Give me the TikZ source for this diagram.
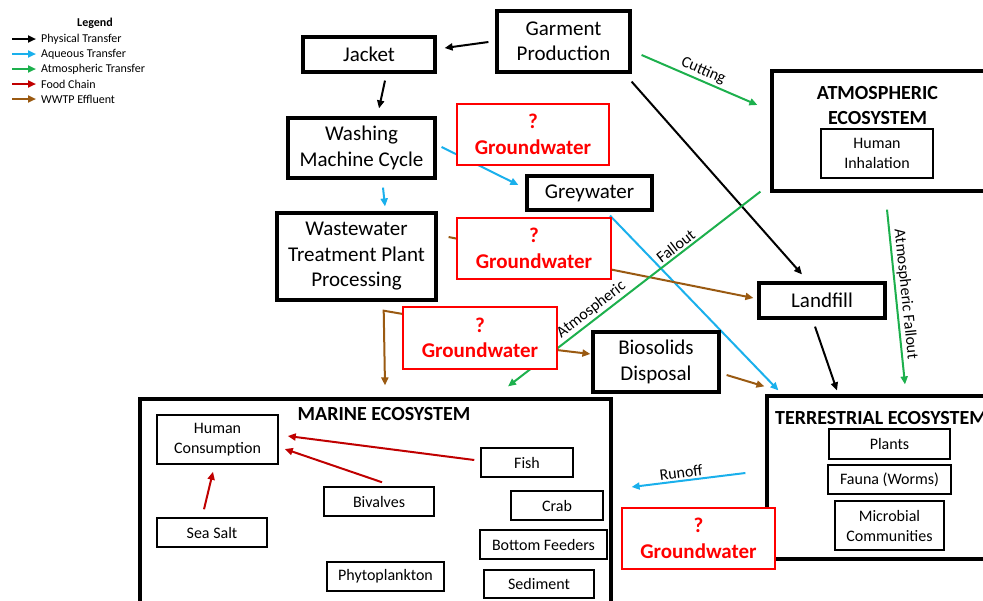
\documentclass[tikz,border=0pt]{standalone}
\usepackage{fontspec}
\setmainfont{Carlito}
\usetikzlibrary{arrows.meta,calc}
\definecolor{aq}{HTML}{1AB0EC}
\definecolor{atm}{HTML}{1DB04D}
\definecolor{food}{HTML}{C00000}
\definecolor{wwtpc}{HTML}{9A5A12}
\definecolor{gwred}{HTML}{FF0000}
\pgfdeclarelayer{eco}
\pgfdeclarelayer{arr}
\pgfsetlayers{eco,arr,main}
\tikzset{
  mainbox/.style={draw, line width=3.2pt, fill=white, align=center, inner sep=0pt, font=\fontsize{21}{25.5}\selectfont},
  gwbox/.style={draw=gwred, line width=2.6pt, fill=white, text=gwred, align=center, inner sep=0pt, font=\bfseries\fontsize{21}{25.5}\selectfont},
  inbox/.style={draw, line width=1.5pt, fill=white, align=center, inner sep=0pt, font=\fontsize{16}{20}\selectfont},
  ecobox/.style={draw, line width=3.2pt, fill=white, inner sep=0pt},
  ecotitle/.style={font=\bfseries\fontsize{20}{25}\selectfont, align=center, inner sep=0pt},
  arrowbase/.style={line width=2pt, -{Triangle[length=8pt,width=7pt]}},
  phys/.style={arrowbase, draw=black},
  aqua/.style={arrowbase, draw=aq, -{Triangle[length=8pt,width=7pt,fill=aq]}},
  atmos/.style={arrowbase, draw=atm},
  foodc/.style={arrowbase, draw=food},
  eff/.style={arrowbase, draw=wwtpc},
  lbl/.style={font=\fontsize{16}{19}\selectfont, inner sep=2pt},
  legtext/.style={font=\fontsize{12}{14}\selectfont, anchor=west, inner sep=0pt},
}
\begin{document}
\begin{tikzpicture}[x=1pt,y=-1pt]
\useasboundingbox (0,0) rectangle (983,600);

% ---------- legend ----------
\node[font=\bfseries\fontsize{12}{14}\selectfont, inner sep=0pt] (legtitle) at (95,23) {Legend};
\node[legtext] (l1) at (41,39) {Physical Transfer};
\node[legtext] (l2) at (41,54) {Aqueous Transfer};
\node[legtext] (l3) at (41,69) {Atmospheric Transfer};
\node[legtext] (l4) at (41,84) {Food Chain};
\node[legtext] (l5) at (41,99) {WWTP Effluent};
\draw[phys]  ([xshift=-29pt]l1.west) -- ([xshift=-5pt]l1.west);
\draw[aqua]  ([xshift=-29pt]l2.west) -- ([xshift=-5pt]l2.west);
\draw[atmos] ([xshift=-29pt]l3.west) -- ([xshift=-5pt]l3.west);
\draw[foodc] ([xshift=-29pt]l4.west) -- ([xshift=-5pt]l4.west);
\draw[eff]   ([xshift=-29pt]l5.west) -- ([xshift=-5pt]l5.west);

% ---------- ecosystem boxes ----------
\begin{pgfonlayer}{eco}
\node[ecobox, minimum width=213pt, minimum height=120pt] (atmo) at (878.5,131) {};
\node[ecobox, minimum width=240pt, minimum height=163pt] (terr) at (887,477.5) {};
\node[ecobox, minimum width=471pt, minimum height=216pt] (marine) at (375.5,507) {};
\node[ecotitle] (atmotitle) at (877.5,106) {ATMOSPHERIC\\ECOSYSTEM};
\node[ecotitle, anchor=west] (terrtitle) at (775,418) {TERRESTRIAL ECOSYSTEM};
\node[ecotitle] (marinetitle) at (384,414) {MARINE ECOSYSTEM};
\end{pgfonlayer}

% ---------- boxes ----------
\node[mainbox, minimum width=133pt, minimum height=61pt] (garment) at (563.5,41.5) {Garment\\Production};
\node[mainbox, minimum width=132pt, minimum height=35pt] (jacket) at (369,54.5) {Jacket};
\node[mainbox, minimum width=147pt, minimum height=60pt] (washing) at (361.5,148) {Washing\\Machine Cycle};
\node[mainbox, minimum width=125pt, minimum height=34pt] (grey) at (589.5,193) {Greywater};
\node[mainbox, minimum width=159pt, minimum height=87pt] (wwtp) at (356.5,256.5) {Wastewater\\Treatment Plant\\Processing};
\node[mainbox, minimum width=126pt, minimum height=60pt] (bio) at (656,362) {Biosolids\\Disposal};
\node[mainbox, minimum width=126pt, minimum height=35pt] (landfill) at (822,300.5) {Landfill};

\node[gwbox, minimum width=152pt, minimum height=61pt] (gw1) at (533,134.5) {?\\Groundwater};
\node[gwbox, minimum width=154pt, minimum height=61pt] (gw2) at (534,248.5) {?\\Groundwater};
\node[gwbox, minimum width=154pt, minimum height=62pt] (gw3) at (480,338) {?\\Groundwater};
\node[gwbox, minimum width=153pt, minimum height=61pt] (gw4) at (698.5,538.5) {?\\Groundwater};

\node[inbox, minimum width=112pt, minimum height=49pt] (inhal) at (877,153.5) {Human\\Inhalation};
\node[inbox, minimum width=121pt, minimum height=30pt] (plants) at (889.5,444) {Plants};
\node[inbox, minimum width=123pt, minimum height=29pt] (fauna) at (889.5,479.5) {Fauna (Worms)};
\node[inbox, minimum width=109pt, minimum height=49pt] (micro) at (889.5,525.5) {Microbial\\Communities};

\node[inbox, minimum width=121pt, minimum height=49pt] (hc) at (217.5,439.5) {Human\\Consumption};
\node[inbox, minimum width=110pt, minimum height=29pt] (salt) at (212,532.5) {Sea Salt};
\node[inbox, minimum width=110pt, minimum height=29pt] (biv) at (379,501.5) {Bivalves};
\node[inbox, minimum width=117pt, minimum height=29pt] (phyto) at (385.5,576.5) {Phytoplankton};
\node[inbox, minimum width=92pt, minimum height=29pt] (fish) at (527,462.5) {Fish};
\node[inbox, minimum width=92pt, minimum height=29pt] (crab) at (557,505.5) {Crab};
\node[inbox, minimum width=127pt, minimum height=29pt] (bottom) at (543.5,544.5) {Bottom Feeders};
\node[inbox, minimum width=110pt, minimum height=28pt] (sed) at (539,584) {Sediment};

% ---------- connectors ----------
\begin{pgfonlayer}{arr}
\draw[phys] ([shift={(-7,0.5)}]garment.west) -- ([shift={(8,-6.5)}]jacket.east);
\draw[phys] ([shift={(16,7)}]jacket.south) -- ([shift={(17.5,-8)}]washing.north);
\draw[atmos] ([shift={(10,13.5)}]garment.east) -- node[lbl, sloped, above, pos=0.5] (cutlbl) {Cutting} ([shift={(-13,-26)}]atmo.west);
\draw[phys] ([shift={(0,8)}]garment.south east) -- ([shift={(-20,-7)}]landfill.north);
\draw[aqua] ([shift={(5,-1)}]washing.east) -- ([shift={(-7,-8)}]grey.west);
\draw[aqua] ([shift={(21.5,8)}]washing.south) -- ([shift={(28.5,-5)}]wwtp.north);
\draw[aqua] ([shift={(20.5,4)}]grey.south) -- ([shift={(13,-4)}]terr.north west);
\draw[eff] ([shift={(11,-19.5)}]wwtp.east) -- ([shift={(-4,-2.5)}]landfill.west);
\draw[eff] ([shift={(17,11)}]gw3.north west) -- ++(-35,-6) -- ([shift={(9.5,-12)}]marine.north);
\draw[eff] ([shift={(-10,11)}]gw3.east) -- ([shift={(-1,-8)}]bio.west);
\draw[eff] ([shift={(6,13)}]bio.east) -- ([shift={(-1,-8)}]terr.north west);
\draw[atmos] ([shift={(-10,-1)}]atmo.south west) --
   node[lbl, sloped, above, pos=0.315] (falllbl) {Fallout}
   node[lbl, sloped, above, pos=0.646] (atmlbl) {Atmospheric}
   ([shift={(132.5,-11)}]marine.north);
\draw[atmos] ([shift={(8.5,17)}]atmo.south) -- node[lbl, sloped, above, pos=0.49] (afall) {Atmospheric Fallout} ([shift={(18,-10)}]terr.north);
\draw[phys] ([shift={(-7,7)}]landfill.south) -- ([shift={(-50,-4)}]terr.north);
\draw[aqua] ([shift={(-20,-4.5)}]terr.west) -- node[lbl, sloped, above, pos=0.556] (runlbl) {Runoff} ([shift={(19,-20)}]marine.east);
\draw[foodc] ([shift={(-6,-2.5)}]fish.west) -- ([shift={(9,-3.5)}]hc.east);
\draw[foodc] ([shift={(3,-4)}]biv.north) -- ([shift={(6,9.5)}]hc.east);
\draw[foodc] ([shift={(-8,-8)}]salt.north) -- ([shift={(-4.5,7)}]hc.south);
\end{pgfonlayer}
\end{tikzpicture}
\end{document}
